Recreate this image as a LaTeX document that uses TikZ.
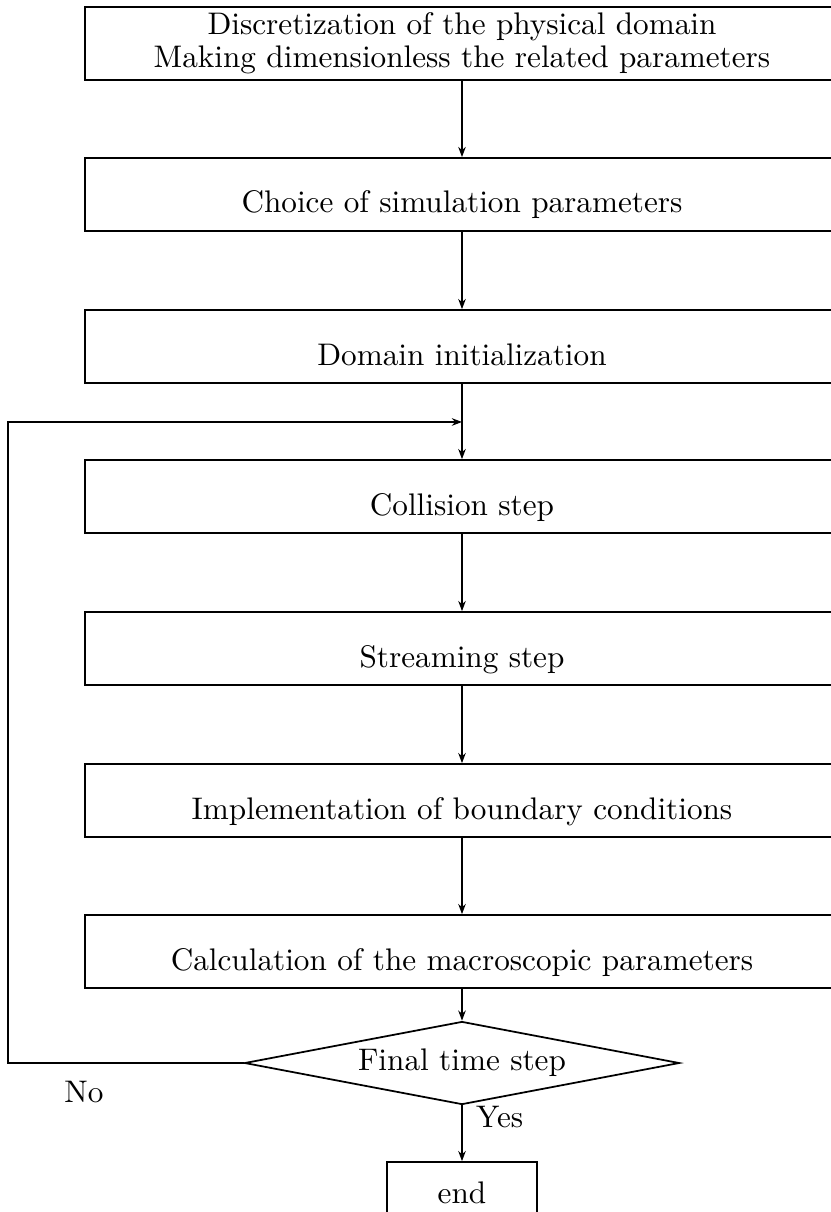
\documentclass[tikz,border=0pt]{standalone}
\usetikzlibrary{shapes.geometric, arrows.meta, calc}

\begin{document}
\begin{tikzpicture}[font=\fontsize{10.7}{11.2}\selectfont,
	stepbox/.style={draw, semithick, minimum width=9.08cm, inner sep=0pt, text height=0.663cm, text depth=0.217cm},
	decision/.style={draw, semithick, diamond, aspect=5.24, minimum width=5.24cm, minimum height=1cm, inner sep=0pt},
	flow/.style={-{Stealth[length=3.5pt,width=2.6pt]}}]
	\useasboundingbox (0,0) rectangle (10,-14.602);
	\node[draw, semithick, minimum width=9.08cm, minimum height=0.88cm, inner sep=0pt, align=center] (disc) at (5.566,-0.524) {Discretization of the physical domain\\Making dimensionless the related parameters};
	\node[stepbox] (choice) at (5.566,-2.343) {Choice of simulation parameters};
	\node[stepbox] (init) at (5.566,-4.175) {Domain initialization};
	\node[stepbox] (coll) at (5.566,-5.982) {Collision step};
	\node[stepbox] (stream) at (5.566,-7.813) {Streaming step};
	\node[stepbox] (bound) at (5.566,-9.645) {Implementation of boundary conditions};
	\node[stepbox] (macro) at (5.566,-11.464) {Calculation of the macroscopic parameters};
	\node[decision] (final) at (5.566,-12.807) {Final time step};
	\node[draw, semithick, minimum width=1.807cm, inner sep=0pt, text height=0.494cm, text depth=0.4cm] (end) at (5.566,-14.447) {end};
	\coordinate (j) at (5.566,-5.084); \coordinate (corner) at (0.096,-5.084);
	% main flow
	\draw[flow] (disc) -- (choice);
	\draw[flow] (choice) -- (init);
	\draw[flow] (init) -- (coll);
	\draw[flow] (coll) -- (stream);
	\draw[flow] (stream) -- (bound);
	\draw[flow] (bound) -- (macro);
	\draw[flow] (macro) -- (final);
	\draw[flow] (final) -- (end);
	% loop back
	\draw[flow] (final.west) -| (corner) -- (j);
	\node (no) at (1.012,-13.157) {No};
	\node (yes) at (6.02,-13.46) {Yes};
\end{tikzpicture}
\end{document}
